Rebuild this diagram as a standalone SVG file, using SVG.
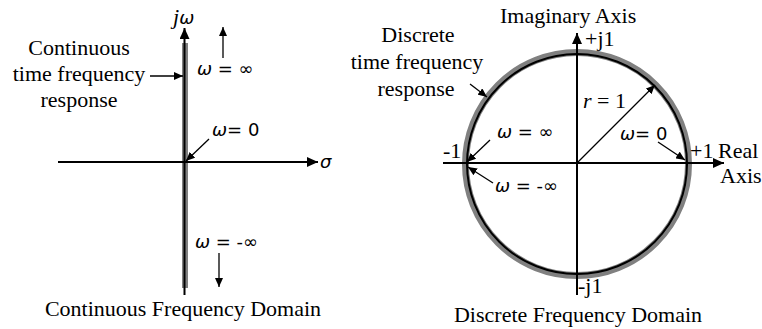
<svg xmlns="http://www.w3.org/2000/svg" width="762" height="329" viewBox="0 0 762 329">
<style>
.t{font-family:"Liberation Serif","Times New Roman",serif;font-size:22px;fill:#000}
.w{font-family:"DejaVu Sans",sans-serif;font-size:18px;fill:#000}
.i{font-style:italic}
.ax{stroke:#000;stroke-width:2;fill:none}
.ln{stroke:#000;stroke-width:1.3;fill:none}
</style>
<defs>
<marker id="ah" markerUnits="userSpaceOnUse" markerWidth="12" markerHeight="10" refX="11" refY="5" orient="auto"><path d="M0,0 L11,5 L0,10 z" fill="#000"/></marker>
<marker id="as" markerUnits="userSpaceOnUse" markerWidth="10" markerHeight="8" refX="9" refY="4" orient="auto"><path d="M0,0 L9,4 L0,8 z" fill="#000"/></marker>
</defs>
<rect width="762" height="329" fill="#fff"/>
<g id="continuous-response">
<rect x="182" y="43" width="6" height="245" fill="#808080"/>
</g>
<g id="discrete-response">
<circle cx="577" cy="164" r="111.5" fill="none" stroke="#808080" stroke-width="7"/>
<circle cx="577" cy="164" r="110" fill="none" stroke="#000" stroke-width="2"/>
</g>
<g id="connectors">
<line class="ax" x1="184.5" y1="295" x2="184.5" y2="28" marker-end="url(#ah)"/>
<line class="ax" x1="58" y1="162" x2="318" y2="162" marker-end="url(#ah)"/>
<line class="ln" x1="223" y1="58" x2="223" y2="27" marker-end="url(#as)"/>
<line class="ln" x1="219" y1="253" x2="219" y2="287" marker-end="url(#as)"/>
<line class="ln" x1="150" y1="76" x2="183" y2="76" marker-end="url(#as)"/>
<line class="ln" x1="209" y1="139" x2="186" y2="161" marker-end="url(#as)"/>
<line class="ax" x1="577" y1="295" x2="577" y2="33" marker-end="url(#ah)"/>
<line class="ax" x1="443" y1="163" x2="724" y2="163" marker-end="url(#ah)"/>
<line class="ln" x1="577" y1="163" x2="655" y2="85" marker-end="url(#as)"/>
<line class="ln" x1="470" y1="84" x2="487" y2="97" marker-end="url(#as)"/>
<line class="ln" x1="658" y1="142" x2="685" y2="160" marker-end="url(#as)"/>
<line class="ln" x1="490" y1="140" x2="467" y2="162" marker-end="url(#as)"/>
<line class="ln" x1="493" y1="183" x2="468" y2="167" marker-end="url(#as)"/>
</g>
<g id="continuous-labels">
<text x="173" y="24"><tspan class="t i">j</tspan><tspan class="w i">ω</tspan></text>
<text class="t" text-anchor="middle" x="79" y="55">Continuous</text>
<text class="t" text-anchor="middle" x="79" y="81">time frequency</text>
<text class="t" text-anchor="middle" x="79" y="107">response</text>
<text class="w" x="197" y="75"><tspan class="i">ω</tspan> = ∞</text>
<text class="w" x="212" y="136"><tspan class="i">ω</tspan>= 0</text>
<text class="w i" x="320" y="168">σ</text>
<text class="w" x="195" y="248"><tspan class="i">ω</tspan> = -∞</text>
<text class="t" text-anchor="middle" x="183" y="316">Continuous Frequency Domain</text>
</g>
<g id="discrete-labels">
<text class="t" text-anchor="middle" x="418" y="42">Discrete</text>
<text class="t" text-anchor="middle" x="417" y="69">time frequency</text>
<text class="t" text-anchor="middle" x="416" y="96">response</text>
<text class="t" x="500" y="23">Imaginary Axis</text>
<text class="t" x="585" y="46">+j1</text>
<text class="t" x="443" y="158">-1</text>
<text class="t" x="690" y="158">+1</text>
<text class="t" x="718" y="158">Real</text>
<text class="t" x="720" y="183">Axis</text>
<text class="t" x="578" y="293">-j1</text>
<text class="t" x="583" y="108"><tspan class="i">r</tspan> = 1</text>
<text class="w" x="620" y="140"><tspan class="i">ω</tspan>= 0</text>
<text class="w" x="497" y="138"><tspan class="i">ω</tspan> = ∞</text>
<text class="w" x="495" y="192"><tspan class="i">ω</tspan> = -∞</text>
<text class="t" text-anchor="middle" x="578" y="322">Discrete Frequency Domain</text>
</g>
</svg>
